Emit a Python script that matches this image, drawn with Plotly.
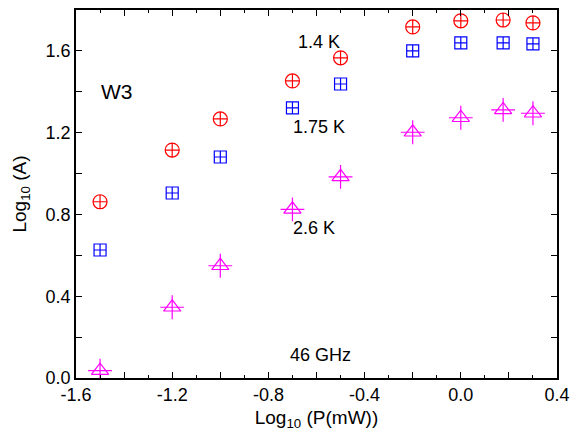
import plotly.graph_objects as go

x_power = [-1.5, -1.2, -1.0, -0.7, -0.5, -0.2, 0.0, 0.176, 0.3]
a_14K = [0.862, 1.115, 1.267, 1.453, 1.566, 1.717, 1.747, 1.751, 1.737]
a_175K = [0.626, 0.905, 1.081, 1.321, 1.438, 1.600, 1.639, 1.639, 1.634]
a_26K = [0.036, 0.346, 0.549, 0.825, 0.984, 1.202, 1.273, 1.311, 1.295]

x_tickvals = [-1.6, -1.4, -1.2, -1.0, -0.8, -0.6, -0.4, -0.2, 0.0, 0.2, 0.4]
x_ticktext = ["-1.6", "", "-1.2", "", "-0.8", "", "-0.4", "", "0.0", "", "0.4"]
y_tickvals = [0.0, 0.2, 0.4, 0.6, 0.8, 1.0, 1.2, 1.4, 1.6]
y_ticktext = ["0.0", "", "0.4", "", "0.8", "", "1.2", "", "1.6"]

fig = go.Figure()
fig.add_trace(go.Scatter(x=x_power, y=a_14K, mode="markers",
                         marker=dict(symbol="circle-cross-open", size=14, color="#ff0000",
                                     line=dict(width=1.2, color="#ff0000"))))
fig.add_trace(go.Scatter(x=x_power, y=a_175K, mode="markers",
                         marker=dict(symbol="square-cross-open", size=12, color="#0000ff",
                                     line=dict(width=1.2, color="#0000ff"))))
fig.add_trace(go.Scatter(x=x_power, y=a_26K, mode="markers",
                         marker=dict(symbol="triangle-up-open", size=15, color="#ff00ff",
                                     line=dict(width=1.2, color="#ff00ff"))))
fig.add_trace(go.Scatter(x=x_power, y=a_26K, mode="markers",
                         marker=dict(symbol="cross-thin-open", size=17, color="#ff00ff",
                                     line=dict(width=1.2, color="#ff00ff"))))

font_family = "Liberation Sans, Arial, sans-serif"
annots = [
    ("W3", -1.43, 1.40, 21),
    ("1.4 K", -0.59, 1.644, 18),
    ("1.75 K", -0.59, 1.228, 18),
    ("2.6 K", -0.61, 0.734, 18),
    ("46 GHz", -0.583, 0.113, 18),
]
for t, ax, ay, fs in annots:
    fig.add_annotation(x=ax, y=ay, text=t, showarrow=False,
                       font=dict(family=font_family, size=fs, color="black"))

axis_common = dict(showgrid=False, zeroline=False, showline=True, linecolor="black",
                   linewidth=1.5, mirror="ticks", ticks="inside", ticklen=6,
                   tickwidth=1, tickcolor="black",
                   tickfont=dict(family=font_family, size=18, color="black"))

fig.update_layout(
    width=573, height=439,
    margin=dict(l=76, r=16, t=10, b=61, autoexpand=False),
    paper_bgcolor="white", plot_bgcolor="white",
    showlegend=False,
    xaxis=dict(range=[-1.6, 0.4], tickvals=x_tickvals, ticktext=x_ticktext,
               minor=dict(ticks="inside", ticklen=3, tickcolor="black", dtick=0.1, tick0=0),
               title=dict(text="Log<sub>10</sub> (P(mW))", standoff=6,
                          font=dict(family=font_family, size=19, color="black")),
               **axis_common),
    yaxis=dict(range=[0, 1.8], tickvals=y_tickvals, ticktext=y_ticktext,
               title=dict(text="Log<sub>10</sub> (A)", standoff=14,
                          font=dict(family=font_family, size=19, color="black")),
               **axis_common),
)

fig.write_html("out.html", config={"displayModeBar": False},
               post_script="document.body.style.margin='0';document.body.style.overflow='hidden';")
